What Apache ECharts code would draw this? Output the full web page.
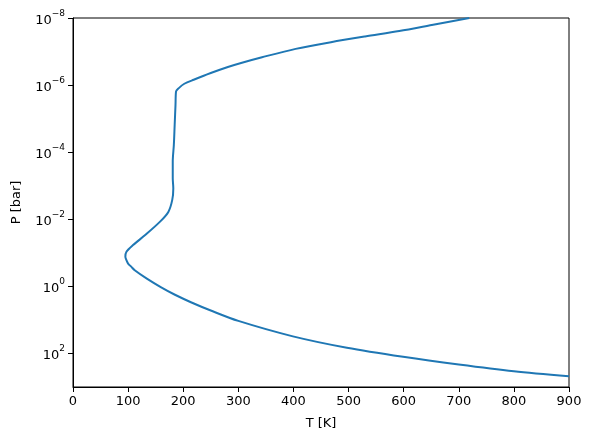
<!DOCTYPE html>
<html>
<head>
<meta charset="utf-8">
<script src="https://cdn.jsdelivr.net/npm/echarts@6/dist/echarts.min.js"></script>
<style>
  html, body { margin: 0; padding: 0; background: #fff; }
  #chart { width: 591px; height: 440px; }
</style>
</head>
<body>
<div id="chart"></div>
<script type="text/javascript">

// temperature profile, read along the curve from the top of the plot down
var temperature = [719, 651, 592, 530, 468, 404, 343, 305, 281, 250, 219, 202, 192, 187, 186, 184.5, 183, 181, 181, 182, 180, 173, 158, 131, 109, 97, 95, 97, 100, 106, 112, 134, 160, 185, 215, 250, 300, 399, 497, 599, 700, 800, 900];
// log10 of pressure in bar
var logPressure = [-8.0, -7.79, -7.61, -7.45, -7.28, -7.08, -6.83, -6.66, -6.54, -6.36, -6.16, -6.04, -5.91, -5.81, -5.41, -4.82, -4.22, -3.72, -3.22, -2.92, -2.57, -2.22, -1.93, -1.53, -1.23, -1.03, -0.88, -0.78, -0.68, -0.58, -0.48, -0.23, 0.03, 0.25, 0.48, 0.72, 1.03, 1.49, 1.83, 2.10, 2.33, 2.53, 2.68];

var xTicks = [0, 100, 200, 300, 400, 500, 600, 700, 800, 900];
var yTickExp = [-8, -6, -4, -2, 0, 2];

var profile = [];
for (var i = 0; i < temperature.length; i++) {
	profile.push([temperature[i], logPressure[i]]);
}

var font = 'DejaVu Sans';

var option = {
	animation: false,
	backgroundColor: '#fff',
	grid: {
		left: 73,
		right: 22,
		top: 18,
		bottom: 53,
		show: true,
		borderColor: '#000',
		borderWidth: 1
	},
	xAxis: {
		type: 'value',
		min: 0,
		max: 900,
		interval: 100,
		name: 'T [K]',
		nameLocation: 'middle',
		nameGap: 30,
		nameTextStyle: { color: '#000', fontFamily: font, fontSize: 13 },
		axisLine: { show: true, onZero: false, lineStyle: { color: '#000', width: 1 } },
		axisTick: { show: true, inside: false, length: 5, lineStyle: { color: '#000' } },
		axisLabel: {
			color: '#000', fontFamily: font, fontSize: 13, margin: 8,
			formatter: function (v) { return xTicks.indexOf(v) >= 0 ? String(v) : ''; }
		},
		splitLine: { show: false }
	},
	yAxis: {
		type: 'value',
		inverse: true,
		min: -8,
		max: 3,
		name: 'P [bar]',
		nameLocation: 'middle',
		nameGap: 50,
		nameTextStyle: { color: '#000', fontFamily: font, fontSize: 13 },
		axisLine: { show: true, onZero: false, lineStyle: { color: '#000', width: 1 } },
		axisTick: { show: true, inside: false, length: 5, customValues: yTickExp, lineStyle: { color: '#000' } },
		axisLabel: {
			color: '#000', fontFamily: font, margin: 8,
			customValues: yTickExp,
			formatter: function (v) {
				var e = v < 0 ? '\u2212' + (-v) : String(v);
				return '{b|10}{s|' + e + '}';
			},
			rich: {
				b: { fontFamily: font, fontSize: 13, color: '#000', verticalAlign: 'bottom', lineHeight: 18 },
				s: { fontFamily: font, fontSize: 9, color: '#000', verticalAlign: 'top', lineHeight: 18 }
			}
		},
		splitLine: { show: false }
	},
	series: [{
		type: 'line',
		data: profile,
		showSymbol: false,
		smooth: 0.3,
		clip: true,
		lineStyle: { color: '#1f77b4', width: 2 }
	}]
};

var chart = echarts.init(document.getElementById('chart'), null, { renderer: 'canvas' });
chart.setOption(option);
</script>
</body>
</html>
